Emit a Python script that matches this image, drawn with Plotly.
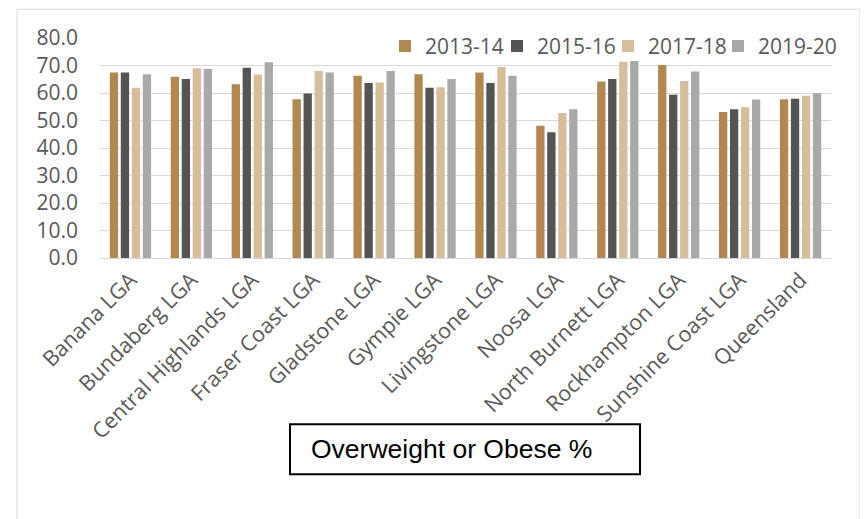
import plotly.graph_objects as go

categories = ["Banana LGA", "Bundaberg LGA", "Central Highlands LGA", "Fraser Coast LGA",
              "Gladstone LGA", "Gympie LGA", "Livingstone LGA", "Noosa LGA",
              "North Burnett LGA", "Rockhampton LGA", "Sunshine Coast LGA", "Queensland"]
series_names = ["2013-14", "2015-16", "2017-18", "2019-20"]
v2013_14 = [67.5, 65.9, 63.2, 57.7, 66.3, 66.8, 67.5, 48.1, 64.2, 70.2, 53.1, 57.7]
v2015_16 = [67.5, 65.1, 69.2, 59.8, 63.6, 61.9, 63.6, 45.7, 65.1, 59.4, 54.1, 57.9]
v2017_18 = [61.9, 69.0, 66.7, 68.0, 63.8, 62.1, 69.5, 52.7, 71.4, 64.4, 54.8, 59.0]
v2019_20 = [66.8, 68.7, 71.2, 67.5, 68.0, 65.1, 66.3, 54.1, 71.6, 67.8, 57.6, 59.9]
y_ticks = [0, 10, 20, 30, 40, 50, 60, 70, 80]
y_ticklabels = ["0.0", "10.0", "20.0", "30.0", "40.0", "50.0", "60.0", "70.0", "80.0"]
chart_label = "Overweight or Obese %"

colors = ["#B08850", "#545454", "#D6BE9C", "#A9A9A9"]
values = [v2013_14, v2015_16, v2017_18, v2019_20]

FONT = "Open Sans"
TXT = "#595959"

OFF = 8  # page body margin
W, H = 860, 511
L, R = 100 - OFF, 831 - OFF
T, B = 37.7 - OFF, 257.7 - OFF
pw, ph = R - L, B - T


def px(xw):
    return (xw - OFF - L) / pw


def py(yw):
    return (B - (yw - OFF)) / ph


legend_ids = ["legend", "legend2", "legend3", "legend4"]
legend_text_x = [424, 536, 647, 757]  # window px where legend text starts

fig = go.Figure()
for name, vals, col, lid in zip(series_names, values, colors, legend_ids):
    fig.add_trace(go.Bar(x=categories, y=vals, name=name, marker_color=col,
                         marker_line_width=0, legend=lid))

legend_layout = {}
for lid, tx in zip(legend_ids, legend_text_x):
    legend_layout[lid] = dict(orientation="h", x=px(tx - 39), xanchor="left",
                              y=py(46), yanchor="middle",
                              font=dict(size=21, color=TXT, family=FONT),
                              bgcolor="rgba(0,0,0,0)", borderwidth=0)

fig.update_layout(
    width=W, height=H,
    margin=dict(l=L, r=W - R, t=T, b=H - B, autoexpand=False),
    paper_bgcolor="white", plot_bgcolor="white",
    barmode="group", bargap=0.278, bargroupgap=0.245,
    font=dict(family=FONT, color=TXT),
    showlegend=True,
    xaxis=dict(showgrid=False, showline=True, linecolor="#D9D9D9", linewidth=1,
               tickangle=-45, tickfont=dict(size=21.5, color=TXT, family=FONT),
               ticks="", fixedrange=True),
    yaxis=dict(range=[0, 80], tickvals=y_ticks, ticktext=y_ticklabels,
               showgrid=True, gridcolor="#D9D9D9", gridwidth=1, zeroline=False,
               showline=False, tickfont=dict(size=21, color=TXT, family=FONT),
               ticklabelstandoff=21, fixedrange=True),
    shapes=[
        dict(type="rect", xref="paper", yref="paper", x0=px(17), x1=px(860),
             y0=py(540), y1=py(9), line=dict(color="#D9D9D9", width=1), layer="below"),
        dict(type="rect", xref="paper", yref="paper", x0=px(290), x1=px(640),
             y0=py(474), y1=py(424), line=dict(color="black", width=2)),
    ],
    annotations=[
        dict(text=chart_label, xref="paper", yref="paper", x=px(309), y=py(449),
             xanchor="left", yanchor="middle", showarrow=False,
             font=dict(family="Liberation Sans, Arial", size=26.5, color="black")),
    ],
    **legend_layout,
)

fig.write_html("out.html")
